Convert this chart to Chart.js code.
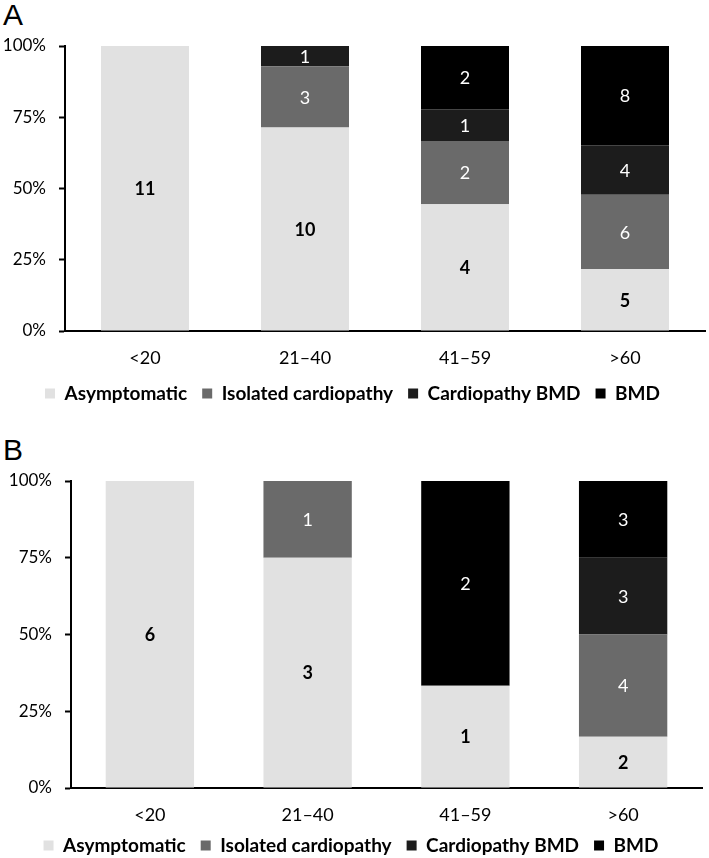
<!DOCTYPE html>
<html>
<head>
<meta charset="utf-8">
<script src="https://cdn.jsdelivr.net/npm/chart.js@4/dist/chart.umd.min.js"></script>
<style>
  body { margin: 0; background: #fff; overflow: hidden; }
  .panel { position: absolute; left: 0; }
  .letter { position: absolute; left: 3px; font-family: "Liberation Sans", Arial, sans-serif; font-size: 30px; line-height: 30px; color: #000; }
</style>
</head>
<body>
<div class="letter" style="top:0px">A</div>
<div class="panel" style="top:0px"><canvas id="chartA" width="709" height="413"></canvas></div>
<div class="letter" style="top:435px">B</div>
<div class="panel" style="top:435px"><canvas id="chartB" width="709" height="430"></canvas></div>
<script>
var ageGroups = ["<20", "21\u201340", "41\u201359", ">60"];
var seriesNames = ["Asymptomatic", "Isolated cardiopathy", "Cardiopathy BMD", "BMD"];
var seriesColors = ["#e1e1e1", "#6a6a6a", "#1c1c1c", "#000000"];

// panel A counts
var asymptomaticA = [11, 10, 4, 5];
var isolatedA = [0, 3, 2, 6];
var cardioBmdA = [0, 1, 1, 4];
var bmdA = [0, 0, 2, 8];

// panel B counts
var asymptomaticB = [6, 3, 1, 2];
var isolatedB = [0, 1, 0, 4];
var cardioBmdB = [0, 0, 0, 3];
var bmdB = [0, 0, 2, 3];

var yTicks = [0, 25, 50, 75, 100];

Chart.defaults.font.family = "Lato, 'Noto Sans', sans-serif";
Chart.defaults.color = "#000";

// write the count in the middle of every segment
var countLabels = {
  id: "countLabels",
  afterDatasetsDraw: function (chart) {
    var ctx = chart.ctx;
    ctx.save();
    ctx.textAlign = "center";
    ctx.textBaseline = "middle";
    chart.data.datasets.forEach(function (ds, i) {
      var meta = chart.getDatasetMeta(i);
      meta.data.forEach(function (bar, j) {
        var n = ds.counts[j];
        if (!n) return;
        var p = bar.getProps(["x", "y", "base"], true);
        if (i === 0) {
          ctx.fillStyle = "#000";
          ctx.font = "bold 18px Lato, sans-serif";
        } else {
          ctx.fillStyle = "#fff";
          ctx.font = "18px Lato, sans-serif";
        }
        ctx.fillText(String(n), p.x, (p.y + p.base) / 2 + 1);
      });
    });
    ctx.restore();
  },
};

function makeChart(id, series, opts) {
  var totals = ageGroups.map(function (g, j) {
    return series.reduce(function (s, arr) { return s + arr[j]; }, 0);
  });
  var datasets = series.map(function (arr, i) {
    return {
      label: seriesNames[i],
      counts: arr,
      data: arr.map(function (v, j) { return (v / totals[j]) * 100; }),
      backgroundColor: seriesColors[i],
      borderWidth: 0,
      barPercentage: opts.barPct,
      categoryPercentage: 1,
    };
  });

  return new Chart(document.getElementById(id).getContext("2d"), {
    type: "bar",
    data: { labels: ageGroups, datasets: datasets },
    plugins: [countLabels],
    options: {
      responsive: false,
      animation: false,
      layout: { padding: { top: 46, left: 0, right: opts.right, bottom: 0 } },
      plugins: {
        tooltip: { enabled: false },
        legend: {
          position: "bottom",
          labels: {
            boxWidth: 10,
            boxHeight: 10,
            padding: 15,
            color: "#000",
            font: { size: 19, weight: "bold" },
          },
        },
      },
      scales: {
        x: {
          stacked: true,
          grid: { display: false, drawTicks: false },
          border: { display: true, color: "#000", width: 2 },
          ticks: { padding: 16, font: { size: 18 }, color: "#000" },
          afterFit: function (scale) { scale.height = opts.xHeight; },
        },
        y: {
          stacked: true,
          min: 0,
          max: 100,
          afterBuildTicks: function (scale) {
            scale.ticks = yTicks.map(function (v) { return { value: v }; });
          },
          grid: {
            drawOnChartArea: false,
            drawTicks: true,
            tickLength: 6,
            tickWidth: 2,
            tickColor: "#000",
          },
          border: { display: true, color: "#000", width: 2 },
          ticks: {
            padding: 13,
            font: { size: 17 },
            color: "#000",
            callback: function (v) { return v + "%"; },
          },
          afterFit: function (scale) { scale.width = opts.yWidth; },
        },
      },
    },
  });
}

makeChart("chartA", [asymptomaticA, isolatedA, cardioBmdA, bmdA], {
  barPct: 0.55, right: 4, yWidth: 65, xHeight: 38,
});
makeChart("chartB", [asymptomaticB, isolatedB, cardioBmdB, bmdB], {
  barPct: 0.56, right: 7, yWidth: 71, xHeight: 33,
});
</script>
</body>
</html>
